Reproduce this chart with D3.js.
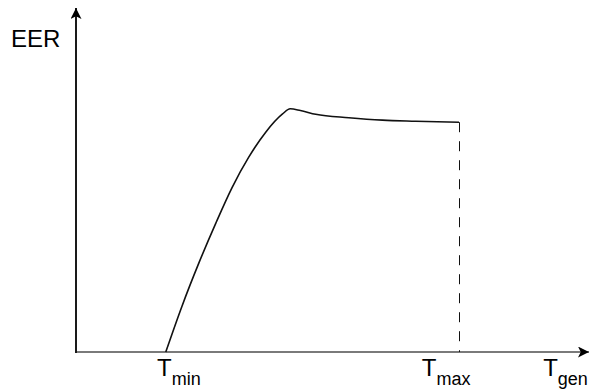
<!DOCTYPE html>
<html>
<head>
<meta charset="utf-8">
<script src="https://cdn.jsdelivr.net/npm/d3@7"></script>
<style>
  body { margin: 0; background: #fff; }
  text { font-family: "Liberation Sans", Arial, sans-serif; fill: #000; }
</style>
</head>
<body>
<div id="chart"></div>
<script>
// curve samples (arbitrary units, 0..100 on both axes)
var tempValues = [17.6, 20.8, 24.1, 27.4, 30.6, 33.9, 37.2, 40.5, 42.0, 44.0, 47.0, 53.5, 60.1, 66.6, 75.1];
var eerValues  = [0, 13.4, 25.9, 37.4, 47.8, 56.7, 63.9, 69.2, 70.7, 70.2, 69.1, 68.1, 67.4, 67.1, 66.8];
var labelPos   = [15.9, 67.8, 91.6];
var labelMain  = ['T', 'T', 'T'];
var labelSub   = ['min', 'max', 'gen'];

var width = 590, height = 389;

var svg = d3.select('#chart').append('svg')
    .attr('width', width)
    .attr('height', height);

var x = d3.scaleLinear().domain([0, 100]).range([76, 586]);
var y = d3.scaleLinear().domain([0, 100]).range([352, 8]);

var defs = svg.append('defs');
defs.append('marker')
    .attr('id', 'arrow')
    .attr('viewBox', '0 0 10 10')
    .attr('refX', 10).attr('refY', 5)
    .attr('markerUnits', 'userSpaceOnUse')
    .attr('markerWidth', 11).attr('markerHeight', 11)
    .attr('orient', 'auto')
  .append('path')
    .attr('d', 'M0,0 L10,5 L0,10 L2.5,5 Z')
    .attr('fill', '#000');

// x axis (grey)
svg.append('line')
    .attr('x1', x(0)).attr('y1', y(0))
    .attr('x2', 589).attr('y2', y(0))
    .attr('stroke', '#7a7a7a')
    .attr('stroke-width', 2)
    .attr('marker-end', 'url(#arrow)');

// y axis
svg.append('line')
    .attr('x1', x(0)).attr('y1', y(0) + 1)
    .attr('x2', x(0)).attr('y2', 8)
    .attr('stroke', '#1a1a1a')
    .attr('stroke-width', 2)
    .attr('marker-end', 'url(#arrow)');

// dashed Tmax line
var last = tempValues.length - 1;
svg.append('line')
    .attr('x1', Math.round(x(tempValues[last])) + 0.5).attr('y1', y(eerValues[last]))
    .attr('x2', Math.round(x(tempValues[last])) + 0.5).attr('y2', y(0))
    .attr('stroke', '#111')
    .attr('stroke-width', 1)
    .attr('stroke-dasharray', '10,9');

var pts = tempValues.map(function (t, i) { return [t, eerValues[i]]; });
var line = d3.line()
    .x(function (d) { return x(d[0]); })
    .y(function (d) { return y(d[1]); })
    .curve(d3.curveMonotoneX);

svg.append('path')
    .datum(pts)
    .attr('d', line)
    .attr('fill', 'none')
    .attr('stroke', '#111')
    .attr('stroke-width', 1.6);

// axis labels
for (var i = 0; i < labelPos.length; i++) {
    var t = svg.append('text')
        .attr('x', x(labelPos[i]))
        .attr('y', 376)
        .attr('font-size', '24px');
    t.append('tspan').text(labelMain[i]);
    t.append('tspan')
        .attr('dy', 9)
        .attr('font-size', '18px')
        .text(labelSub[i]);
}

svg.append('text')
    .attr('x', 11)
    .attr('y', 47)
    .attr('font-size', '24px')
    .text('EER');
</script>
</body>
</html>
